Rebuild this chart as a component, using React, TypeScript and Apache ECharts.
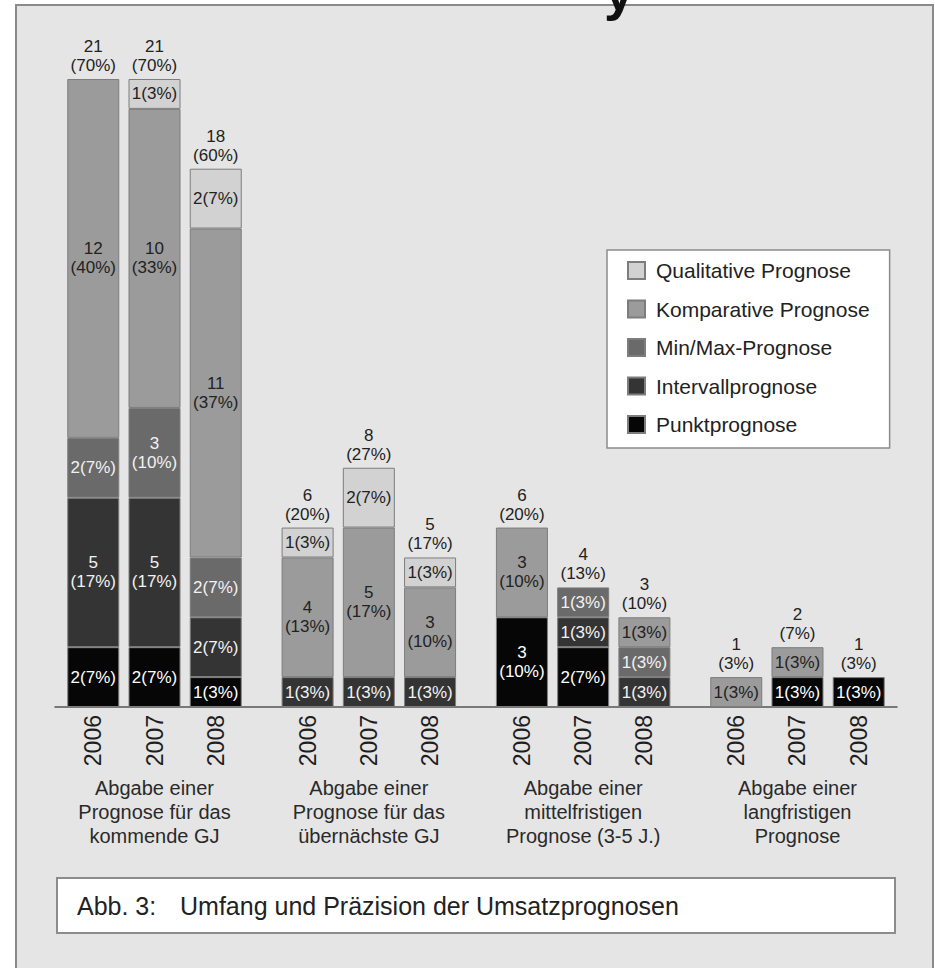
import React, { useEffect, useRef } from "react";
import * as echarts from "echarts";

const groupNames = [
  "Abgabe einer\nPrognose für das\nkommende GJ",
  "Abgabe einer\nPrognose für das\nübernächste GJ",
  "Abgabe einer\nmittelfristigen\nPrognose (3-5 J.)",
  "Abgabe einer\nlangfristigen\nPrognose",
];
const years = ["2006", "2007", "2008"];
const respondents = 30;

// order: group1 2006-2008, group2 2006-2008, group3 ..., group4 ...
const punkt = [2, 2, 1, 0, 0, 0, 3, 2, 0, 0, 1, 1];
const intervall = [5, 5, 2, 1, 1, 1, 0, 1, 1, 0, 0, 0];
const minmax = [2, 3, 2, 0, 0, 0, 0, 1, 1, 0, 0, 0];
const komparativ = [12, 10, 11, 4, 5, 3, 3, 0, 1, 1, 1, 0];
const qualitativ = [0, 1, 2, 1, 2, 1, 0, 0, 0, 0, 0, 0];

const seriesNames = [
  "Punktprognose",
  "Intervallprognose",
  "Min/Max-Prognose",
  "Komparative Prognose",
  "Qualitative Prognose",
];
const seriesColors = ["#060606", "#343434", "#6a6a6a", "#9b9b9b", "#d2d2d2"];
const labelColors = ["#ffffff", "#f2f2f2", "#f2f2f2", "#222222", "#222222"];
const caption = "Abb. 3:";
const captionText = "Umfang und Präzision der Umsatzprognosen";

const FONT = "'Liberation Sans', Arial, Helvetica, sans-serif";

export default function App() {
  const ref = useRef<HTMLDivElement>(null);
  useEffect(() => {
    document.body.style.margin = "0";
    if (!ref.current) return;
    const chart = echarts.init(ref.current, null, { renderer: "svg" });

    // quarter-width category slots: bars 4 slots apart within a group, 6 between groups
    const nCats = 55;
    const pos: number[] = [];
    groupNames.forEach((_, g) => years.forEach((_, y) => pos.push(2 + g * 14 + y * 4)));
    const yearCats: string[] = new Array(nCats).fill("");
    const groupCats: string[] = new Array(nCats).fill("");
    pos.forEach((p, i) => (yearCats[p] = years[i % 3]));
    groupNames.forEach((n, g) => (groupCats[pos[g * 3 + 1]] = n));

    const spread = (arr: number[]) => {
      const out: (number | null)[] = new Array(nCats).fill(null);
      pos.forEach((p, i) => (out[p] = arr[i] ? arr[i] : null));
      return out;
    };
    const all = [punkt, intervall, minmax, komparativ, qualitativ];
    const totals = punkt.map((_, i) => all.reduce((s, a) => s + a[i], 0));
    const pct = (v: number) => Math.round((v / respondents) * 100);

    const series: any[] = all.map((arr, k) => ({
      name: seriesNames[k],
      type: "bar",
      stack: "s",
      barWidth: 52,
      data: spread(arr),
      itemStyle: { color: seriesColors[k], borderColor: "#7d7d7d", borderWidth: 1 },
      label: {
        show: true,
        position: "inside",
        color: labelColors[k],
        fontFamily: FONT,
        fontSize: 17,
        lineHeight: 19,
        formatter: (p: any) => {
          const v = p.value;
          if (!v) return "";
          return v >= 3 ? `${v}\n(${pct(v)}%)` : `${v}(${pct(v)}%)`;
        },
      },
    }));
    const totalData: (number | null)[] = new Array(nCats).fill(null);
    const totalLookup: Record<number, number> = {};
    pos.forEach((p, i) => {
      totalData[p] = 0;
      totalLookup[p] = totals[i];
    });
    series.push({
      name: "Gesamt",
      type: "bar",
      stack: "s",
      barWidth: 52,
      data: totalData,
      itemStyle: { color: "transparent", borderWidth: 0 },
      label: {
        show: true,
        position: "top",
        distance: 4,
        color: "#222",
        fontFamily: FONT,
        fontSize: 17,
        lineHeight: 19,
        formatter: (p: any) => {
          const t = totalLookup[p.dataIndex];
          return `${t}\n(${pct(t)}%)`;
        },
      },
    });

    chart.setOption({
      animation: false,
      backgroundColor: "#ffffff",
      textStyle: { fontFamily: FONT },
      graphic: [
        {
          type: "rect",
          z: -10,
          shape: { x: 16, y: 5, width: 917, height: 980 },
          style: { fill: "#e5e5e5", stroke: "#8a8a8a", lineWidth: 2 },
        },
        {
          type: "text",
          z: -5,
          x: 604,
          y: -36,
          style: { text: "y", font: `bold 54px ${FONT}`, fill: "#111" },
        },
        {
          type: "rect",
          shape: { x: 57, y: 878, width: 838, height: 55 },
          style: { fill: "#ffffff", stroke: "#8c8c8c", lineWidth: 2 },
        },
        {
          type: "text",
          x: 77,
          y: 906,
          style: { text: caption, font: `25px ${FONT}`, fill: "#222", verticalAlign: "middle" },
        },
        {
          type: "text",
          x: 180,
          y: 906,
          style: { text: captionText, font: `25px ${FONT}`, fill: "#222", verticalAlign: "middle" },
        },
      ],
      legend: {
        data: [...seriesNames].reverse(),
        orient: "vertical",
        left: 607,
        top: 250,
        backgroundColor: "#ffffff",
        borderColor: "#8c8c8c",
        borderWidth: 1.5,
        padding: [10, 20, 13, 20],
        itemGap: 17.5,
        itemWidth: 17,
        itemHeight: 17,
        icon: "rect",
        textStyle: { fontSize: 21, color: "#222", fontFamily: FONT, padding: [0, 0, 0, 6] },
      },
      grid: { left: 55, right: 38, top: 79, bottom: 261 },
      xAxis: [
        {
          type: "category",
          data: yearCats,
          axisTick: { show: false },
          axisLine: { lineStyle: { color: "#555", width: 1.5 } },
          axisLabel: {
            interval: 0,
            rotate: 90,
            margin: 8,
            fontSize: 23,
            color: "#1e1e1e",
            fontFamily: FONT,
          },
        },
        {
          type: "category",
          data: groupCats,
          position: "bottom",
          offset: 61,
          axisTick: { show: false },
          axisLine: { show: false },
          axisLabel: {
            interval: 0,
            margin: 8,
            fontSize: 20,
            lineHeight: 24,
            color: "#2a2a2a",
            fontFamily: FONT,
          },
        },
      ],
      yAxis: { type: "value", min: 0, max: 21, show: false, splitLine: { show: false } },
      series,
    });
    return () => chart.dispose();
  }, []);
  return <div ref={ref} style={{ width: 935, height: 968 }} />;
}
